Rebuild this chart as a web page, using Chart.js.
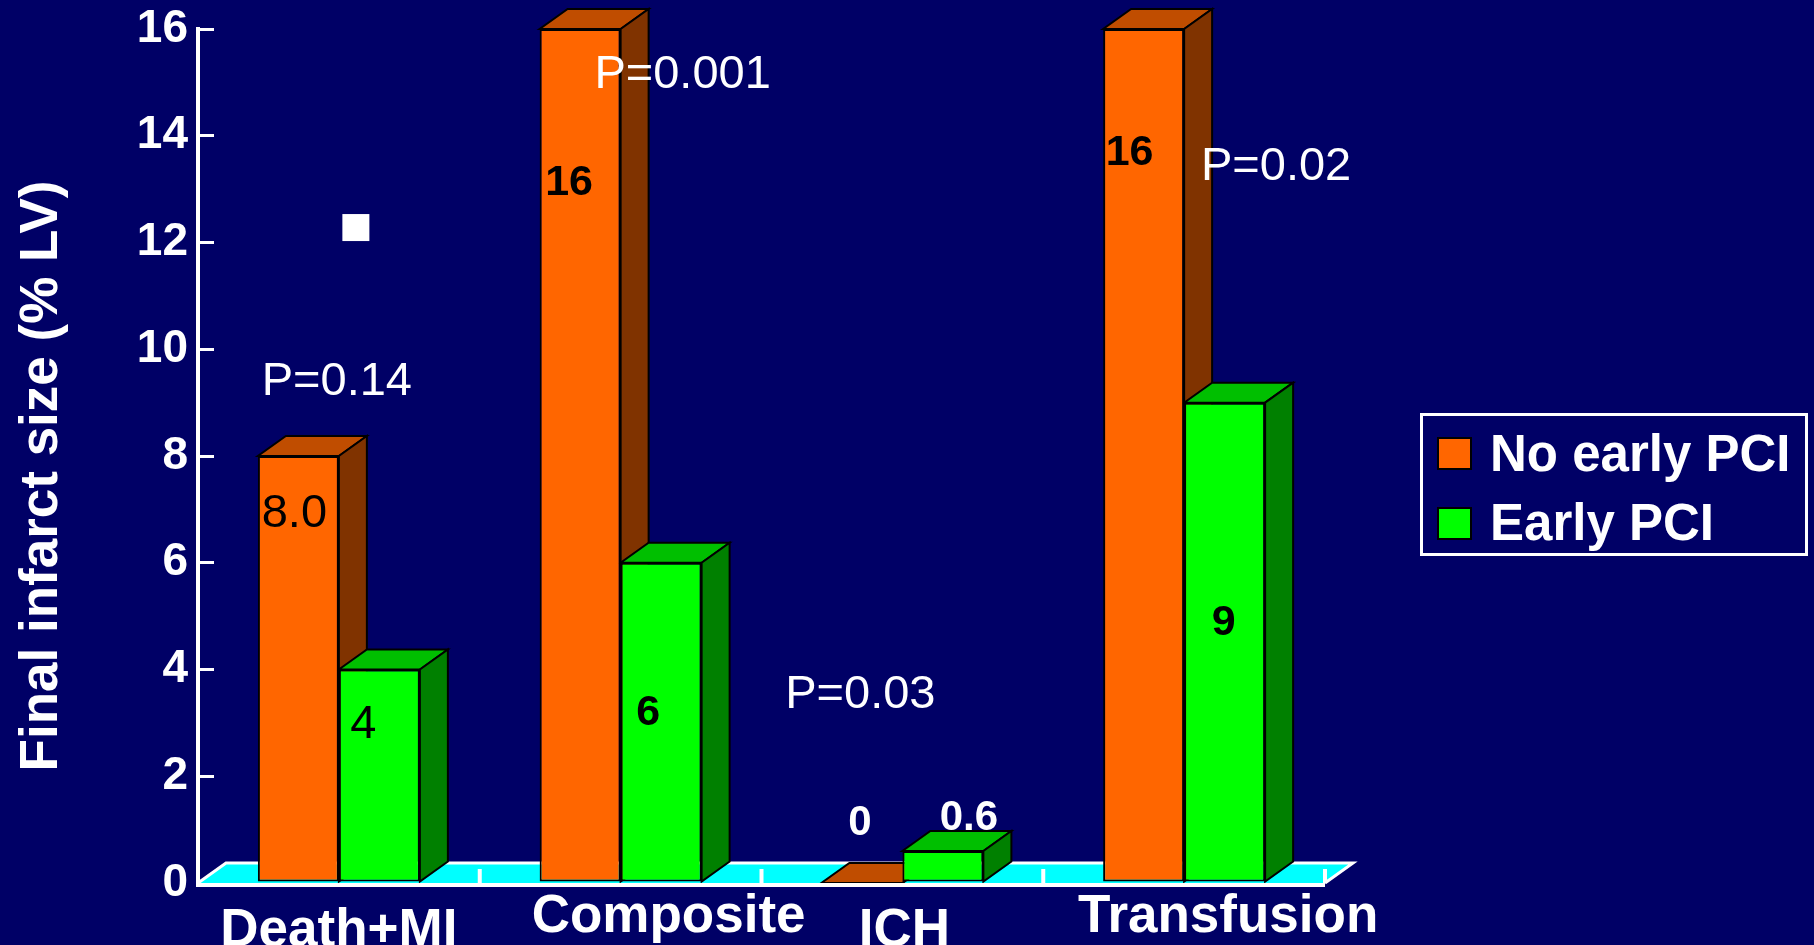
<!DOCTYPE html>
<html>
<head>
<meta charset="utf-8">
<title>Final infarct size</title>
<script src="https://cdn.jsdelivr.net/npm/chart.js@4.4.1/dist/chart.umd.min.js"></script>
<style>
  html, body { margin: 0; padding: 0; background: #000066; overflow: hidden; }
  canvas { display: block; }
</style>
</head>
<body>
<canvas id="chart" width="1814" height="945"></canvas>
<script>
// ---- data ----
const categories = ['Death+MI', 'Composite', 'ICH', 'Transfusion'];
const seriesNames = ['No early PCI', 'Early PCI'];
const noEarlyPci = [8.0, 16, 0, 16];
const earlyPci = [4, 6, 0.6, 9];
const noEarlyDecimals = [1, 0, 0, 0];
const earlyDecimals = [0, 0, 1, 0];
const pValues = ['P=0.14', 'P=0.001', 'P=0.03', 'P=0.02'];
const yTicks = [0, 2, 4, 6, 8, 10, 12, 14, 16];
const yTitle = 'Final infarct size (% LV)';

// ---- styling / layout ----
const FONT = '"Liberation Sans", Arial, Helvetica, sans-serif';
const PALETTE = {
  bg: '#000066',
  floor: '#00FFFF',
  white: '#FFFFFF',
  edge: '#000000',
  series: [
    { front: '#FF6600', top: '#C04D00', side: '#803300' },
    { front: '#00FF00', top: '#00BF00', side: '#008000' }
  ]
};
const DEPTH = { dx: 28, dy: -20 };

// value label placement relative to each bar (dx from bar centre, dy from bar top to baseline)
const valueLabelStyle = [
  [
    { dx: -4,  dy: 71,  weight: 'normal', size: 47, color: '#000000' },
    { dx: -11, dy: 166, weight: 'bold',   size: 43, color: '#000000' },
    { dx: -2,  dy: -48, weight: 'bold',   size: 42, color: '#FFFFFF' },
    { dx: -14, dy: 136, weight: 'bold',   size: 43, color: '#000000' }
  ],
  [
    { dx: -16, dy: 68,  weight: 'normal', size: 47, color: '#000000' },
    { dx: -13, dy: 162, weight: 'bold',   size: 43, color: '#000000' },
    { dx: 26,  dy: -21, weight: 'bold',   size: 42, color: '#FFFFFF' },
    { dx: -1,  dy: 232, weight: 'bold',   size: 43, color: '#000000' }
  ]
];
// p-value text: horizontal offset from category centre, baseline in axis units
const pValueLayout = [
  { dx: -2,  y: 9.14 },
  { dx: 62,  y: 14.89 },
  { dx: -42, y: 3.28 },
  { dx: 92,  y: 13.17 }
];
const bulletLayout = { cat: 0, dx: 17, y: 12.28, size: 27 };
// category names: horizontal offset from centre, baseline below the floor front edge
const categoryLabelLayout = [
  { dx: 0,  dy: 63 },
  { dx: 48, dy: 49 },
  { dx: 2,  dy: 63 },
  { dx: 44, dy: 49 }
];
const LEGEND = {
  box: { x: 1421, y: 414, w: 385, h: 140 },
  swatch: { x: 1438, w: 33, h: 31 },
  rowTops: [438, 508],
  textX: 1490,
  baselines: [471, 540],
  size: 51
};

Chart.defaults.font.family = FONT;

function polygon(ctx, pts, fill) {
  ctx.beginPath();
  ctx.moveTo(pts[0][0], pts[0][1]);
  for (let i = 1; i < pts.length; i++) ctx.lineTo(pts[i][0], pts[i][1]);
  ctx.closePath();
  ctx.fillStyle = fill;
  ctx.fill();
  ctx.stroke();
}

const chart3d = {
  id: 'chart3d',
  beforeDraw(chart) {
    const { ctx, width, height } = chart;
    ctx.save();
    ctx.fillStyle = PALETTE.bg;
    ctx.fillRect(0, 0, width, height);
    ctx.restore();
  },
  beforeDatasetsDraw(chart) {
    const { ctx, chartArea: area, scales: { x, y } } = chart;
    const base = y.getPixelForValue(0);
    const { dx, dy } = DEPTH;
    ctx.save();

    // floor
    ctx.beginPath();
    ctx.moveTo(area.left, base);
    ctx.lineTo(area.right, base);
    ctx.lineTo(area.right + dx, base + dy);
    ctx.lineTo(area.left + dx, base + dy);
    ctx.closePath();
    ctx.fillStyle = PALETTE.floor;
    ctx.fill();
    ctx.strokeStyle = PALETTE.white;
    ctx.lineWidth = 3;
    ctx.beginPath();
    ctx.moveTo(area.left, base);
    ctx.lineTo(area.left + dx, base + dy);
    ctx.lineTo(area.right + dx, base + dy);
    ctx.lineTo(area.right, base);
    ctx.stroke();

    // category dividers on the floor
    const step = x.getPixelForValue(1) - x.getPixelForValue(0);
    ctx.lineWidth = 4;
    ctx.beginPath();
    categories.forEach((_, i) => {
      const px = x.getPixelForValue(i) + step / 2;
      ctx.moveTo(px, base);
      ctx.lineTo(px, base - 14);
    });
    ctx.stroke();

    // top and side faces of the columns
    ctx.strokeStyle = PALETTE.edge;
    ctx.lineWidth = 2;
    ctx.lineJoin = 'miter';
    chart.data.datasets.forEach((ds, d) => {
      const col = PALETTE.series[d];
      chart.getDatasetMeta(d).data.forEach(bar => {
        const p = bar.getProps(['x', 'y', 'base', 'width'], true);
        const l = p.x - p.width / 2, r = p.x + p.width / 2;
        polygon(ctx, [[l, p.y], [r, p.y], [r + dx, p.y + dy], [l + dx, p.y + dy]], col.top);
        polygon(ctx, [[r, p.y], [r + dx, p.y + dy], [r + dx, p.base + dy], [r, p.base]], col.side);
      });
    });
    ctx.restore();
  },
  afterDatasetsDraw(chart) {
    const { ctx, chartArea: area, scales: { x, y } } = chart;
    const base = y.getPixelForValue(0);
    ctx.save();

    // floor front edge
    ctx.strokeStyle = PALETTE.white;
    ctx.lineWidth = 4;
    ctx.beginPath();
    ctx.moveTo(area.left - 2, base + 2);
    ctx.lineTo(area.right, base + 2);
    ctx.stroke();

    // values on the columns
    ctx.textAlign = 'center';
    ctx.textBaseline = 'alphabetic';
    const decimals = [noEarlyDecimals, earlyDecimals];
    chart.data.datasets.forEach((ds, d) => {
      chart.getDatasetMeta(d).data.forEach((bar, i) => {
        const s = valueLabelStyle[d][i];
        const p = bar.getProps(['x', 'y'], true);
        ctx.font = `${s.weight} ${s.size}px ${FONT}`;
        ctx.fillStyle = s.color;
        ctx.fillText(ds.data[i].toFixed(decimals[d][i]), p.x + s.dx, p.y + s.dy);
      });
    });

    // p-values
    ctx.font = `normal 47px ${FONT}`;
    ctx.fillStyle = PALETTE.white;
    pValues.forEach((txt, i) => {
      const l = pValueLayout[i];
      ctx.fillText(txt, x.getPixelForValue(i) + l.dx, y.getPixelForValue(l.y));
    });

    // square bullet
    const bx = x.getPixelForValue(bulletLayout.cat) + bulletLayout.dx;
    const by = y.getPixelForValue(bulletLayout.y);
    ctx.fillRect(bx - bulletLayout.size / 2, by - bulletLayout.size / 2, bulletLayout.size, bulletLayout.size);

    // category names
    ctx.font = `bold 53px ${FONT}`;
    chart.data.labels.forEach((lab, i) => {
      const l = categoryLabelLayout[i];
      ctx.fillText(lab, x.getPixelForValue(i) + l.dx, base + l.dy);
    });

    // y-axis title
    ctx.save();
    ctx.translate(57, (y.top + y.bottom) / 2 + 20);
    ctx.rotate(-Math.PI / 2);
    ctx.font = `bold 53px ${FONT}`;
    ctx.fillText(yTitle, 0, 0);
    ctx.restore();

    // legend
    ctx.strokeStyle = PALETTE.white;
    ctx.lineWidth = 3;
    ctx.strokeRect(LEGEND.box.x + 0.5, LEGEND.box.y + 0.5, LEGEND.box.w, LEGEND.box.h);
    ctx.font = `bold ${LEGEND.size}px ${FONT}`;
    ctx.textAlign = 'left';
    chart.data.datasets.forEach((ds, d) => {
      const top = LEGEND.rowTops[d];
      ctx.fillStyle = ds.backgroundColor;
      ctx.fillRect(LEGEND.swatch.x, top, LEGEND.swatch.w, LEGEND.swatch.h);
      ctx.strokeStyle = PALETTE.edge;
      ctx.lineWidth = 2;
      ctx.strokeRect(LEGEND.swatch.x, top, LEGEND.swatch.w, LEGEND.swatch.h);
      ctx.fillStyle = PALETTE.white;
      ctx.fillText(ds.label, LEGEND.textX, LEGEND.baselines[d]);
    });
    ctx.restore();
  }
};

const barStyle = d => ({
  backgroundColor: PALETTE.series[d].front,
  borderColor: PALETTE.edge,
  borderWidth: 2,
  borderSkipped: false,
  categoryPercentage: 0.575,
  barPercentage: 1.0
});

new Chart(document.getElementById('chart'), {
  type: 'bar',
  data: {
    labels: categories,
    datasets: [
      { label: seriesNames[0], data: noEarlyPci, ...barStyle(0) },
      { label: seriesNames[1], data: earlyPci, ...barStyle(1) }
    ]
  },
  options: {
    responsive: false,
    animation: false,
    devicePixelRatio: 1,
    layout: { autoPadding: false, padding: { top: 29, right: 489, bottom: 62, left: 0 } },
    plugins: {
      legend: { display: false },
      tooltip: { enabled: false }
    },
    scales: {
      x: { display: false },
      y: {
        min: 0,
        max: 16,
        afterBuildTicks: s => { s.ticks = yTicks.map(v => ({ value: v })); },
        afterFit: s => { s.width = 198; s.paddingTop = 0; s.paddingBottom = 0; },
        ticks: {
          color: PALETTE.white,
          padding: 26,
          font: { family: FONT, size: 46, weight: 'bold' }
        },
        grid: {
          drawOnChartArea: false,
          drawTicks: true,
          tickLength: -16,
          color: PALETTE.white,
          lineWidth: 3
        },
        border: { color: PALETTE.white, width: 4 }
      }
    }
  },
  plugins: [chart3d]
});
</script>
</body>
</html>
